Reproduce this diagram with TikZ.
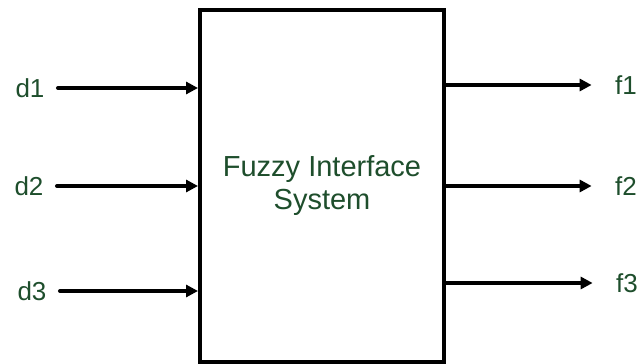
\documentclass[tikz,border=0pt]{standalone}
\usepackage{fontspec}
\setmainfont{Liberation Sans}
\usetikzlibrary{arrows.meta, positioning}
\definecolor{labelgreen}{RGB}{30,78,44}

\begin{document}
\begin{tikzpicture}[
    x=1pt, y=1pt,
    sysbox/.style={rectangle, draw=black, line width=4pt, fill=white, align=center,
                   minimum width=244pt, minimum height=352pt, text=labelgreen,
                   font=\fontsize{29}{33}\selectfont},
    sig/.style={text=labelgreen, font=\fontsize{26}{30}\selectfont},
    arrow/.style={-{Triangle[length=12pt, width=12pt]}, line width=4pt, line cap=round}
]
\useasboundingbox (0,0) rectangle (643,364);
% block
\node[sysbox] (fis) at (322,178) {Fuzzy Interface\\System};
% inputs
\node[sig] (d1) at (30,276) {d1};
\node[sig] (d2) at (29,178) {d2};
\node[sig] (d3) at (32,73) {d3};
% outputs
\node[sig] (f1) at (626,279) {f1};
\node[sig] (f2) at (626,178) {f2};
\node[sig] (f3) at (627,81) {f3};
\foreach \n in {d1,d2,d3}
    \draw[arrow, shorten <=10pt] (\n.east) -- (\n.east -| fis.west);
\foreach \n in {f1,f2,f3}
    \draw[arrow, shorten >=20pt] (fis.east |- \n.west) -- (\n.west);
\end{tikzpicture}
\end{document}
